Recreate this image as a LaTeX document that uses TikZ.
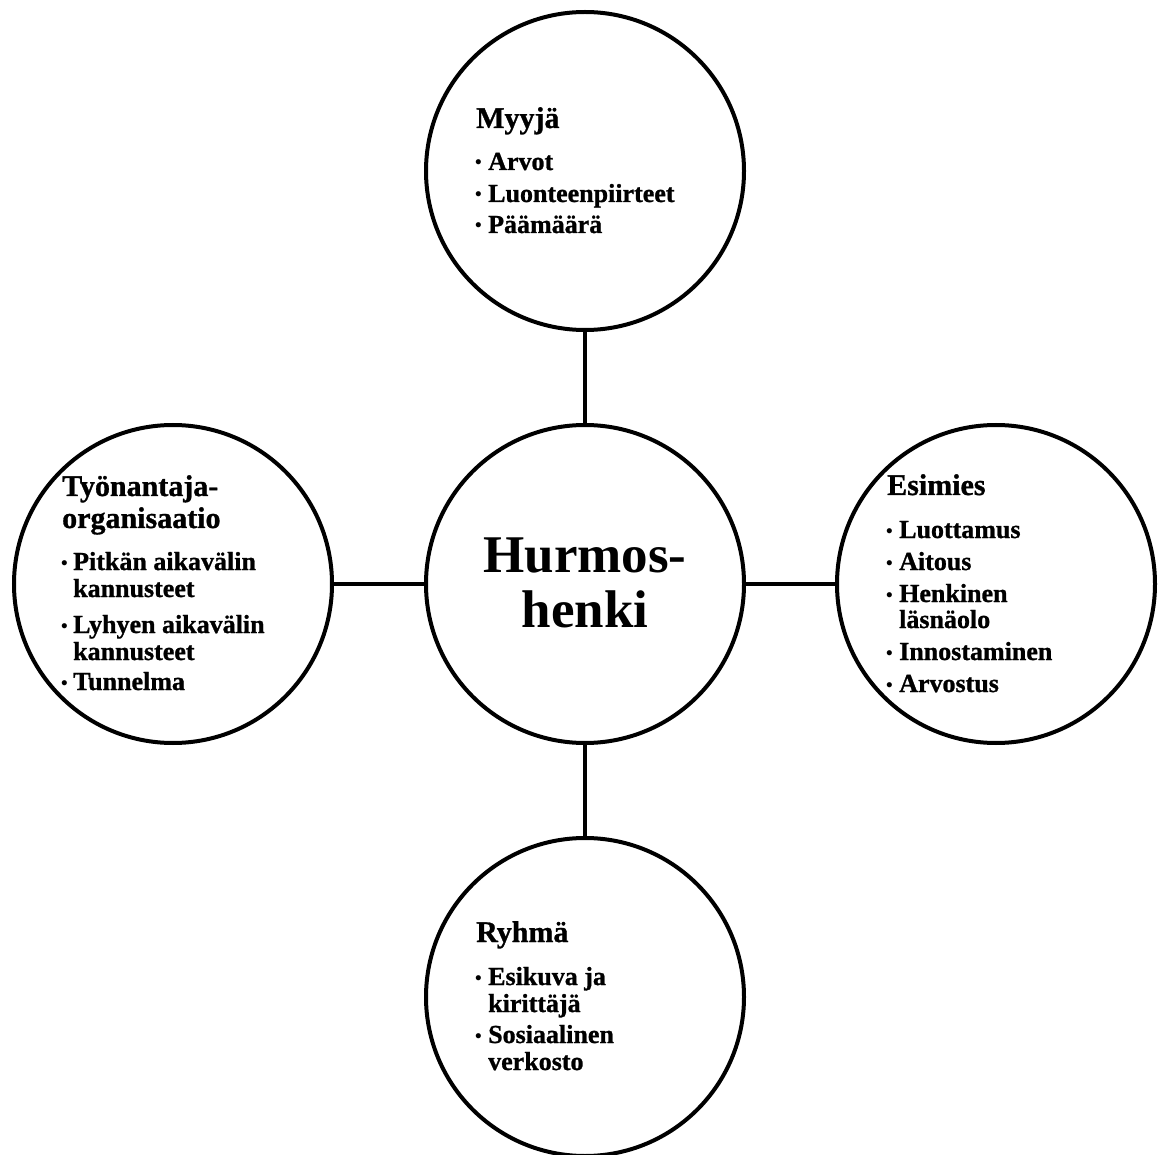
\documentclass[tikz,border=0pt]{standalone}
\usepackage{fontspec}
\newfontfamily\tnr{Liberation Serif Bold}
\newfontfamily\tnrfb{Liberation Serif Bold}[FakeBold=1]
\begin{document}
\begin{tikzpicture}[x=1pt,y=-1pt,
  bubble/.style={circle, draw, line width=4pt, minimum size=318pt, inner sep=0pt},
  link/.style={line width=4pt},
  head/.style={anchor=base west, inner sep=0pt, font=\tnrfb\fontsize{30}{30}\selectfont},
  item/.style={anchor=base west, inner sep=0pt, font=\tnrfb\fontsize{26}{26}\selectfont},
  bul/.style={anchor=base west, inner sep=0pt, font=\tnr\fontsize{19}{19}\selectfont},
  title/.style={anchor=base, inner sep=0pt, font=\tnr\fontsize{53}{53}\selectfont}]
\useasboundingbox (0,0) rectangle (1160,1155);
% circles
\node[bubble] (hub) at (585,584) {};
\node[bubble] (top) at (585,171) {};
\node[bubble] (left) at (173,584) {};
\node[bubble] (right) at (996,584) {};
\node[bubble] (bottom) at (585,997) {};
% connectors
\draw[link] (top) -- (hub);
\draw[link] (hub) -- (bottom);
\draw[link] (left) -- (hub);
\draw[link] (hub) -- (right);
% centre
\node[title] (h1) at (585,572) {Hurmos-};
\node[title] (h2) at (585,627) {henki};
% top
\node[head] (t0) at (476,128) {Myyjä};
\node[bul] (tb1) at (475,169) {•};
\node[item] (t1) at (488,170) {Arvot};
\node[bul] (tb2) at (475,201) {•};
\node[item] (t2) at (488,202) {Luonteenpiirteet};
\node[bul] (tb3) at (475,232) {•};
\node[item] (t3) at (488,233) {Päämäärä};
% left
\node[head] (l0) at (62,496) {Työnantaja-};
\node[head] (l0b) at (62,528) {organisaatio};
\node[bul] (lb1) at (61,569) {•};
\node[item] (l1) at (73,570) {Pitkän aikavälin};
\node[item] (l1b) at (73,597) {kannusteet};
\node[bul] (lb2) at (61,632) {•};
\node[item] (l2) at (73,633) {Lyhyen aikavälin};
\node[item] (l2b) at (73,660) {kannusteet};
\node[bul] (lb3) at (61,689) {•};
\node[item] (l3) at (73,690) {Tunnelma};
% right
\node[head] (r0) at (887,495) {Esimies};
\node[bul] (rb1) at (886,537) {•};
\node[item] (r1) at (899,538) {Luottamus};
\node[bul] (rb2) at (886,569) {•};
\node[item] (r2) at (899,570) {Aitous};
\node[bul] (rb3) at (886,601) {•};
\node[item] (r3) at (899,602) {Henkinen};
\node[item] (r3b) at (899,628) {läsnäolo};
\node[bul] (rb4) at (886,659) {•};
\node[item] (r4) at (899,660) {Innostaminen};
\node[bul] (rb5) at (886,691) {•};
\node[item] (r5) at (899,692) {Arvostus};
% bottom
\node[head] (b0) at (476,942) {Ryhmä};
\node[bul] (bb1) at (475,984) {•};
\node[item] (b1) at (488,985) {Esikuva ja};
\node[item] (b1b) at (488,1012) {kirittäjä};
\node[bul] (bb2) at (475,1042) {•};
\node[item] (b2) at (488,1043) {Sosiaalinen};
\node[item] (b2b) at (488,1070) {verkosto};
\end{tikzpicture}
\end{document}
